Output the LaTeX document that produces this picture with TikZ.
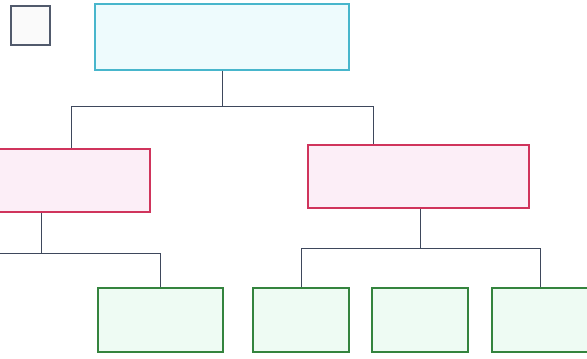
\documentclass[tikz,border=0pt]{standalone}
\usepackage{tikz}
\usetikzlibrary{positioning,calc}

\definecolor{topline}{RGB}{72,182,204}
\definecolor{topfill}{RGB}{238,251,253}
\definecolor{midline}{RGB}{208,52,92}
\definecolor{midfill}{RGB}{252,238,247}
\definecolor{lowline}{RGB}{52,132,62}
\definecolor{lowfill}{RGB}{238,251,243}
\definecolor{wire}{RGB}{62,72,92}

\begin{document}
\begin{tikzpicture}[x=1pt,y=-1pt,
  box/.style={draw,line width=1.6pt,inner sep=0pt},
  topbox/.style={box,draw=topline,fill=topfill,minimum width=254pt,minimum height=66pt},
  midbox/.style={box,draw=midline,fill=midfill,minimum width=221pt,minimum height=63pt},
  lowbox/.style={box,draw=lowline,fill=lowfill,minimum width=96pt,minimum height=64pt},
  link/.style={draw=wire,line width=0.8pt}]
  \useasboundingbox (0,0) rectangle (587,359);
  \clip (0,0) rectangle (587,359);
  \node[box,draw=wire!90,fill=black!2,line width=1.2pt,minimum size=39pt] (key) at (30.5,25.5) {}; % 凡例の小箱
  \node[topbox] (root) at (222,37) {};
  \node[midbox,minimum width=158pt] (midL) at (71,180.5) {};
  \node[midbox] (midR) at (418.5,176.5) {};
  \node[lowbox,minimum width=125pt] (lowA) at (160.5,320) {};
  \node[lowbox] (lowB) at (301,320) {};
  \node[lowbox] (lowC) at (420,320) {};
  \node[lowbox] (lowD) at (540,320) {};
  % 横線の高さ
  \coordinate (rowA) at (0,106);
  \coordinate (rowB) at (0,253);
  \coordinate (rowC) at (0,248);
  \coordinate (offL) at (-10,253); % 左端は画面外へ
  \draw[link] (root.south) -- (root.south |- rowA) -| (midL.north);
  \draw[link] (root.south |- rowA) -| ([xshift=-45.5pt]midR.north);
  \draw[link] ([xshift=-30pt]midL.south) -- ([xshift=-30pt]midL.south |- rowB) -| (lowA.north);
  \draw[link] ([xshift=-30pt]midL.south |- rowB) -- (offL);
  \draw[link] ([xshift=1.5pt]midR.south) -- ([xshift=1.5pt]midR.south |- rowC) -| (lowB.north);
  \draw[link] ([xshift=1.5pt]midR.south |- rowC) -| (lowD.north);
\end{tikzpicture}
\end{document}
